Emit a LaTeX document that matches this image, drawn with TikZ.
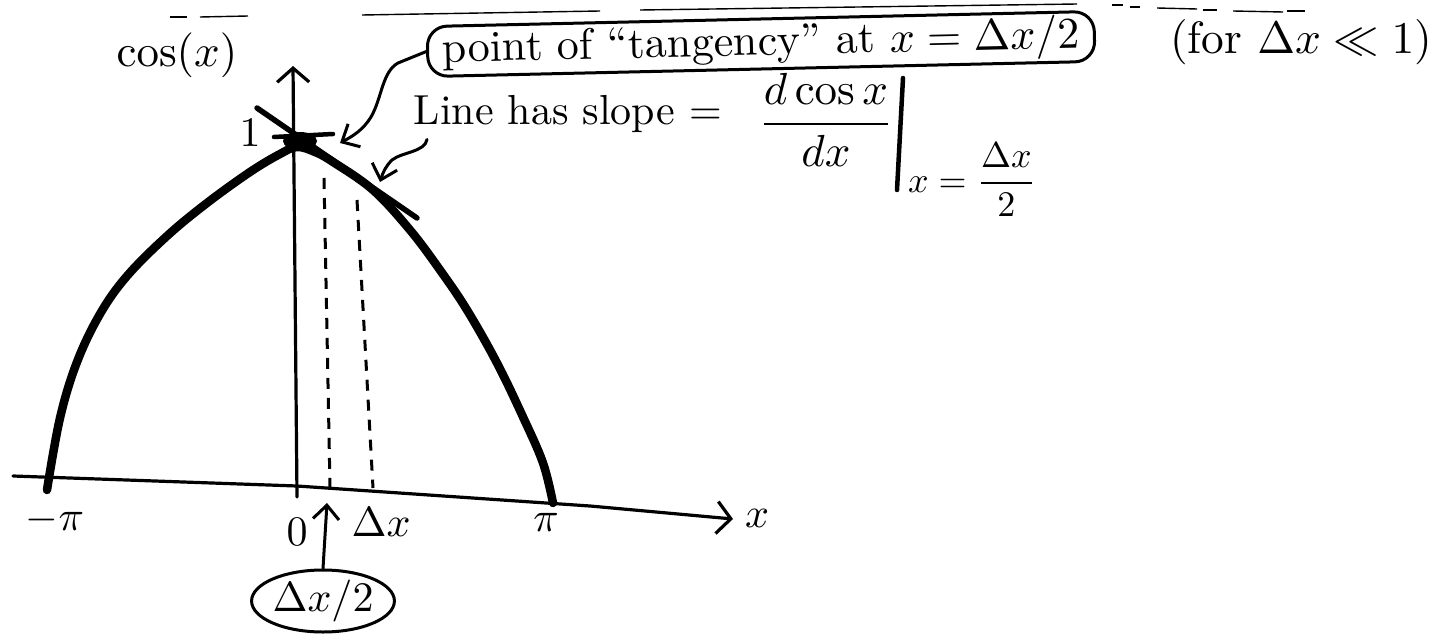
\documentclass[tikz,border=0pt]{standalone}
\usepackage{amsmath}
\usepackage{graphicx}
\usetikzlibrary{arrows.meta,shapes.geometric}
\begin{document}
\begin{tikzpicture}[x=1pt,y=-1pt,
  ink/.style={line cap=round, line join=round},
  lbl/.style={inner sep=0pt, scale=4.2},
  axisline/.style={ink, line width=3.2pt},
  curveline/.style={ink, line width=8.5pt},
  guide/.style={line width=3pt, dash pattern=on 11pt off 9pt},
  axbarb/.style={-{Straight Barb[length=14pt,width=32pt]}},
  callout/.style={ink, line width=3pt, -{Straight Barb[length=14pt,width=26pt]}},
  stray/.style={line width=1.4pt}]
\useasboundingbox (0,0) rectangle (1453,642);

% stray pen marks along the top
\draw[stray] (170,17) -- (187,17);
\draw[stray] (200,17) -- (248,16);
\draw[stray] (362,15) -- (600,11);
\draw[stray] (640,10) -- (1077,4);
\draw[stray] (1112,5) -- (1123,5);
\draw[stray] (1130,7) -- (1140,7);
\draw[stray] (1157,8) -- (1197,9);
\draw[stray] (1203,10) -- (1217,10);
\draw[stray] (1233,11) -- (1283,12);
\draw[stray] (1287,11) -- (1305,11);

% axes
\coordinate (yb) at (297,497);
\coordinate (yt) at (293,66);
\draw[axisline, axbarb] (yb) -- (yt);
\coordinate (xl) at (13,476);
\coordinate (xr) at (733,519);
\draw[axisline, axbarb] (xl) -- (297,486) -- (590,506) -- (xr);

% dashed guides
\coordinate (g1t) at (324,178);
\coordinate (g1b) at (330,487);
\coordinate (g2t) at (357,200);
\coordinate (g2b) at (373,488);
\draw[guide] (g1t) -- (g1b);
\draw[guide] (g2t) -- (g2b);

% the curve
\draw[curveline] plot[smooth, tension=0.6] coordinates {(47,490) (60,418) (77,362) (100,314) (127,276) (167,236) (207,203) (250,172) (280,154) (297,147) (315,152) (333,162) (373,190) (410,230) (440,270) (467,310) (497,363) (523,417) (543,463) (553,503)};
\fill (300,141) ellipse (17pt and 9pt);

% tangent line and short horizontal stroke
\coordinate (ta) at (257,108);
\coordinate (tb) at (417,218);
\draw[ink, line width=5.5pt] (ta) -- (tb);
\coordinate (ha) at (274,137);
\coordinate (hb) at (333,134);
\draw[ink, line width=4.5pt] (ha) -- (hb);

% axis labels
\node[lbl] (mpi) at (55,520) {$-\pi$};
\node[lbl] (zero) at (297,532) {$0$};
\node[lbl] (dxl) at (381,522) {$\Delta x$};
\node[lbl] (pil) at (546,522) {$\pi$};
\node[lbl] (xlab) at (757,518) {$x$};
\node[lbl] (one) at (250,133) {$1$};
\node[lbl, scale=1.07] (cosl) at (177,55) {$\cos(x)$};

% Delta x / 2 callout
\node[draw, ellipse, line width=3pt, minimum width=120pt, minimum height=62pt, inner sep=0pt] (half) at (323,601) {\scalebox{4.2}{$\Delta x/2$}};
\coordinate (halftip) at (327,503);
\draw[callout] (half.north) -- (halftip);

% point of tangency box
\node[draw, line width=3pt, rounded corners=20pt, rotate=1.3, minimum width=667pt, minimum height=50pt, inner sep=0pt] (tan) at (761,44) {\scalebox{4.4}{point of ``tangency'' at $x=\Delta x/2$}};
\coordinate (tantip) at (340,143);
\draw[callout] (tan.west) -- (398,63) .. controls (382,72) and (382,98) .. (371,117) .. controls (363,130) and (353,136) .. (tantip);

% slope text
\node[lbl, anchor=west] (slope) at (413,114) {Line has slope $=$};
\coordinate (slopetip) at (380,182);
\draw[callout] ([xshift=14pt,yshift=-6pt]slope.south west) .. controls (425,152) and (402,152) .. (392,160) .. controls (386,166) and (383,172) .. (slopetip);

\node[lbl, scale=1.07] (frac) at (826,120) {$\displaystyle\frac{d\cos x}{dx}$};
\coordinate (evt) at (903,78);
\coordinate (evb) at (897,190);
\draw[ink, line width=4.5pt] (evt) -- (evb);
\node[inner sep=0pt] (evsub) at (972,180) {\scalebox{3.6}{$x=\dfrac{\Delta x}{2}$}};

\node[lbl, scale=1.08] (cond) at (1301,42) {(for $\Delta x\ll 1$)};
\end{tikzpicture}
\end{document}
